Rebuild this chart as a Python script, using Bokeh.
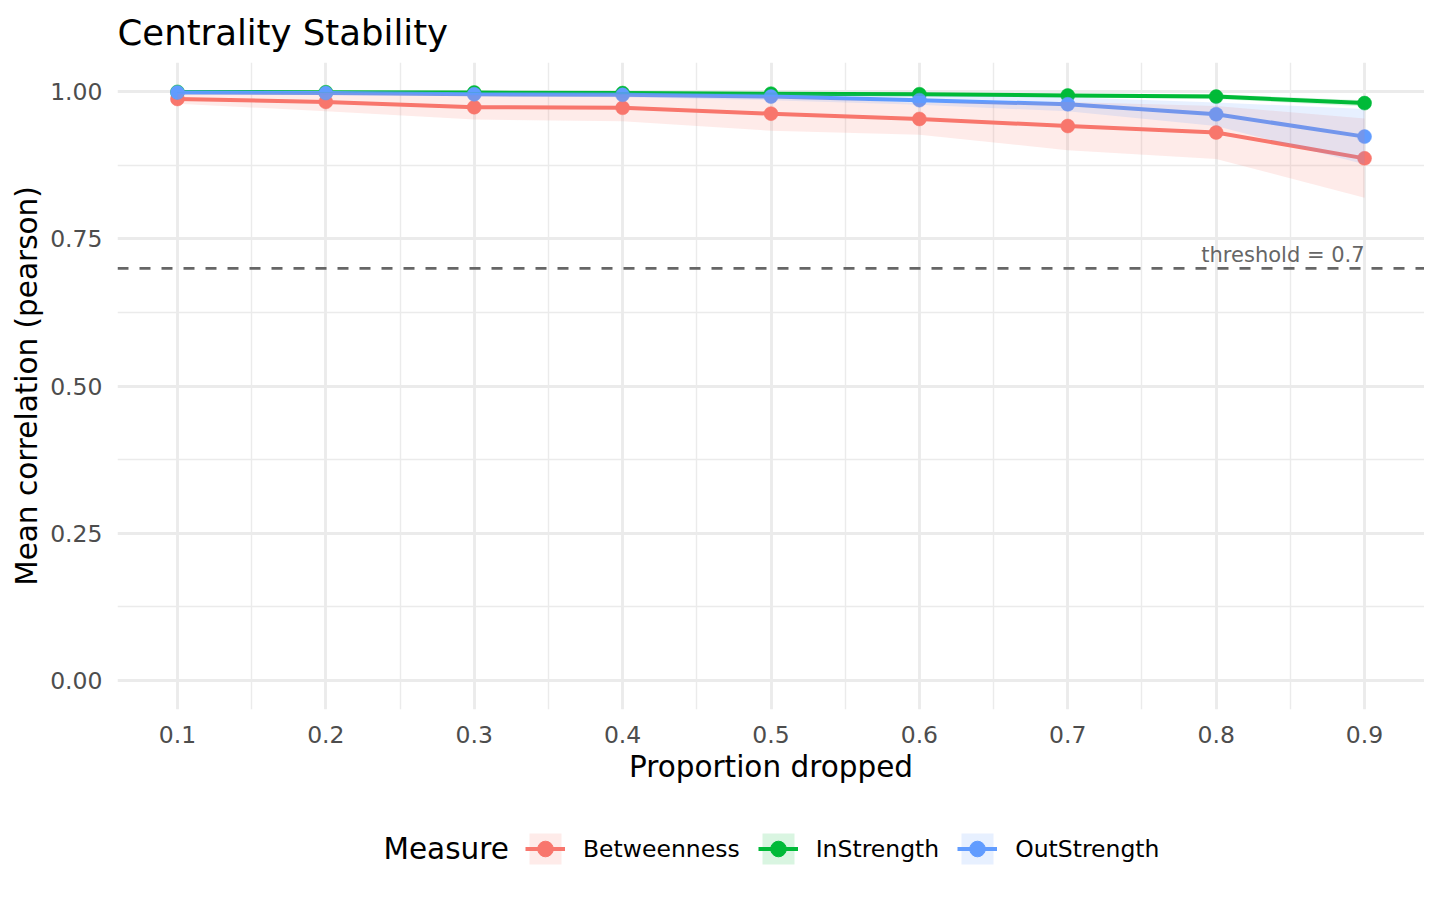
from bokeh.plotting import figure
from bokeh.layouts import column
from bokeh.models import ColumnDataSource, FixedTicker, Span, Legend, LegendItem, Label, Title
from bokeh.core.properties import value
from bokeh.embed import file_html
from bokeh.resources import INLINE

# ---- data ----
proportion = [0.1, 0.2, 0.3, 0.4, 0.5, 0.6, 0.7, 0.8, 0.9]
measures = ["Betweenness", "InStrength", "OutStrength"]
colors = ["#F8766D", "#00BA38", "#619CFF"]

betweenness_mean = [0.988, 0.983, 0.974, 0.973, 0.963, 0.954, 0.942, 0.931, 0.887]
betweenness_lower = [0.980, 0.967, 0.953, 0.950, 0.934, 0.927, 0.901, 0.886, 0.820]
betweenness_upper = [0.996, 0.999, 0.995, 0.996, 0.992, 0.981, 0.983, 0.976, 0.955]

instrength_mean = [1.000, 0.9995, 0.999, 0.998, 0.997, 0.996, 0.994, 0.992, 0.981]
instrength_lower = [0.9995, 0.9985, 0.998, 0.996, 0.995, 0.993, 0.991, 0.988, 0.975]
instrength_upper = [1.000, 1.000, 1.000, 1.000, 0.999, 0.999, 0.997, 0.996, 0.986]

outstrength_mean = [0.999, 0.998, 0.996, 0.995, 0.992, 0.986, 0.979, 0.962, 0.924]
outstrength_lower = [0.998, 0.996, 0.993, 0.991, 0.986, 0.978, 0.967, 0.942, 0.877]
outstrength_upper = [1.000, 1.000, 0.999, 0.999, 0.998, 0.994, 0.991, 0.982, 0.971]

x_ticks = [0.1, 0.2, 0.3, 0.4, 0.5, 0.6, 0.7, 0.8, 0.9]
x_tick_labels = ["0.1", "0.2", "0.3", "0.4", "0.5", "0.6", "0.7", "0.8", "0.9"]
x_minor = [0.15, 0.25, 0.35, 0.45, 0.55, 0.65, 0.75, 0.85]
y_ticks = [0.0, 0.25, 0.5, 0.75, 1.0]
y_tick_labels = ["0.00", "0.25", "0.50", "0.75", "1.00"]
y_minor = [0.125, 0.375, 0.625, 0.875]
threshold = 0.7
threshold_label = "threshold = 0.7"
legend_title = "Measure"

series = [
    (betweenness_mean, betweenness_lower, betweenness_upper),
    (instrength_mean, instrength_lower, instrength_upper),
    (outstrength_mean, outstrength_lower, outstrength_upper),
]

FONT = "DejaVu Sans"

p = figure(width=1424, height=800, x_range=(0.0596, 0.9404), y_range=(-0.05, 1.05),
           output_backend="svg", toolbar_location=None,
           min_border_left=117, min_border_right=0, min_border_top=62, min_border_bottom=91)
p.outline_line_color = None
p.background_fill_color = "white"
p.border_fill_color = "white"

# title
p.title.text = "Centrality Stability"
p.title.text_font = FONT
p.title.text_font_size = "35.5px"
p.title.text_font_style = "normal"
p.title.text_color = "black"
p.title.align = "left"
if "standoff" in Title.properties():
    p.title.standoff = 19

# axes
for ax in (p.xaxis[0], p.yaxis[0]):
    ax.axis_line_color = None
    ax.major_tick_line_color = None
    ax.minor_tick_line_color = None
    ax.major_tick_out = 0
    ax.major_tick_in = 0
    ax.minor_tick_out = 0
    ax.major_label_text_font = FONT
    ax.major_label_text_font_size = "23.5px"
    ax.major_label_text_color = "#4D4D4D"
    ax.axis_label_text_font = FONT
    ax.axis_label_text_font_size = "29.5px"
    ax.axis_label_text_font_style = "normal"
    ax.axis_label_text_color = "black"

p.xaxis.ticker = FixedTicker(ticks=x_ticks, minor_ticks=x_minor)
p.yaxis.ticker = FixedTicker(ticks=y_ticks, minor_ticks=y_minor)
p.xaxis.major_label_overrides = dict(zip(x_ticks, x_tick_labels))
p.yaxis.major_label_overrides = dict(zip(y_ticks, y_tick_labels))
p.xaxis.axis_label = "Proportion dropped"
p.yaxis.axis_label = "Mean correlation (pearson)"
p.xaxis.major_label_standoff = 16
p.yaxis.major_label_standoff = 15
p.xaxis.axis_label_standoff = 4
p.yaxis.axis_label_standoff = 3

for g in (p.xgrid[0], p.ygrid[0]):
    g.grid_line_color = "#EBEBEB"
    g.grid_line_width = 2.85
    g.minor_grid_line_color = "#EBEBEB"
    g.minor_grid_line_width = 1.42

# threshold
p.add_layout(Span(location=threshold, dimension="width", line_color="#666666",
                  line_width=2.8, line_dash="11 11"))
p.text(x=[max(proportion)], y=[threshold], text=[threshold_label],
       text_font=value(FONT), text_font_size="21px", text_color="#666666",
       text_align="right", text_baseline="alphabetic", y_offset=-13)

srcs = []
for (mean, lo, hi), col in zip(series, colors):
    src = ColumnDataSource(dict(x=proportion, y=mean, lo=lo, hi=hi))
    p.line("x", "y", source=src, line_color=col, line_width=4)
    p.scatter("x", "y", source=src, size=14, fill_color=col, line_color=col, line_width=0.5)
    srcs.append(src)

for src, col in zip(srcs, colors):
    p.varea(x="x", y1="lo", y2="hi", source=src, fill_color=col, fill_alpha=0.15)

# ---- legend strip below the plot ----
lg = figure(width=1424, height=100, x_range=(0, 1), y_range=(0, 1),
            output_backend="svg", toolbar_location=None,
            x_axis_location=None, y_axis_location=None, min_border=0)
lg.outline_line_color = None
lg.xgrid.visible = False
lg.ygrid.visible = False

items = []
for src, col, m in zip(srcs, colors, measures):
    a = lg.varea(x="x", y1="lo", y2="hi", source=src, fill_color=col, fill_alpha=0.15, visible=False)
    l = lg.line("x", "y", source=src, line_color=col, line_width=4, visible=False)
    s = lg.scatter("x", "y", source=src, size=14, fill_color=col, line_color=col, visible=False)
    items.append(LegendItem(label=m, renderers=[a, l, s]))

legend = Legend(items=items, orientation="horizontal", location=(408, 32),
                glyph_width=40, glyph_height=39, label_standoff=18, spacing=18,
                label_text_font=FONT, label_text_font_size="23.5px", label_text_color="black",
                label_text_baseline="middle",
                border_line_color=None, background_fill_alpha=0, padding=0, margin=0)
lg.add_layout(legend, "center")
lg.add_layout(Label(x=266, y=52, x_units="screen", y_units="screen", text=legend_title,
                    text_font=FONT, text_font_size="29.5px", text_color="black",
                    text_baseline="middle", text_align="left"))

layout = column(p, lg, spacing=0)
open("out.html", "w").write(file_html(layout, INLINE))
